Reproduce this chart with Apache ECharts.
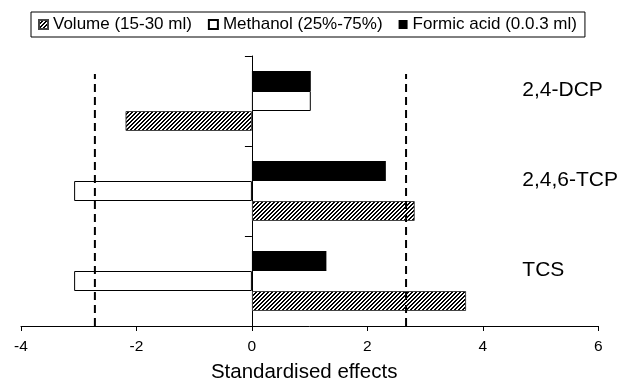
<!DOCTYPE html>
<html>
<head>
<meta charset="utf-8">
<script src="https://cdn.jsdelivr.net/npm/echarts@6/dist/echarts.min.js"></script>
<style>
  html, body { margin: 0; padding: 0; background: #fff; }
  #chart { width: 621px; height: 388px; }
</style>
</head>
<body>
<div id="chart"></div>
<script>
// compounds, bottom to top
var compounds = ['TCS', '2,4,6-TCP', '2,4-DCP'];
var volume = [3.71, 2.82, -2.19];
var methanol = [-3.08, -3.08, 1.02];
var formic = [1.29, 2.32, 1.02];
// significance limits (dashed lines)
var critical = [-2.72, 2.67];
var critTop = 2.8; // dashed lines stop a bit under the top of the plot (in category units)
var xMin = -4, xMax = 6, xStep = 2;

var FONT = '"Liberation Sans", Arial, sans-serif';

function hatch() {
  var c = document.createElement('canvas');
  c.width = 4; c.height = 4;
  var ctx = c.getContext('2d');
  ctx.fillStyle = '#fff';
  ctx.fillRect(0, 0, 4, 4);
  ctx.fillStyle = '#000';
  for (var y = 0; y < 4; y++) {
    ctx.fillRect((7 - y) % 4, y, 1, 1);
    ctx.fillRect((4 - y) % 4, y, 1, 1);
  }
  return c;
}

function dashed(x) {
  return {
    type: 'line',
    xAxisIndex: 0,
    yAxisIndex: 2,
    data: [[x, 0], [x, critTop]],
    symbol: 'none',
    silent: true,
    z: 5,
    lineStyle: { color: '#000', width: 2, type: [8, 5] }
  };
}

var myChart = echarts.init(document.getElementById('chart'));
myChart.setOption({
  animation: false,
  textStyle: { fontFamily: FONT, color: '#000' },
  legend: {
    data: ['Volume (15-30 ml)', 'Methanol (25%-75%)', 'Formic acid (0.0.3 ml)'],
    left: 31,
    top: 12,
    icon: 'rect',
    itemWidth: 9,
    itemHeight: 9,
    itemGap: 16,
    padding: [4, 8, 4, 7],
    borderColor: '#000',
    borderWidth: 1,
    selectedMode: false,
    textStyle: { fontSize: 17, color: '#000', fontFamily: FONT }
  },
  grid: { left: 21, right: 20, top: 56, bottom: 58 },
  xAxis: {
    type: 'value',
    min: xMin,
    max: xMax,
    interval: xStep,
    name: 'Standardised effects',
    nameLocation: 'middle',
    nameGap: 36,
    nameTextStyle: { fontSize: 20.5, color: '#000', padding: [0, 11, 0, 0] },
    axisLine: { onZero: false, lineStyle: { color: '#000', width: 1 } },
    axisTick: { show: true, length: 5, lineStyle: { color: '#000' } },
    axisLabel: { fontSize: 15.5, color: '#000', margin: 13 },
    splitLine: { show: false }
  },
  yAxis: [
    {
      type: 'category',
      data: compounds,
      axisLine: { onZero: true, lineStyle: { color: '#000', width: 1 } },
      axisTick: { show: true, length: 7, lineStyle: { color: '#000' } },
      axisLabel: { show: false },
      splitLine: { show: false }
    },
    {
      type: 'category',
      data: compounds,
      position: 'right',
      axisLine: { show: false },
      axisTick: { show: false },
      axisLabel: {
        align: 'left',
        verticalAlign: 'bottom',
        margin: -76,
        fontSize: 21,
        color: '#000'
      }
    },
    { type: 'value', min: 0, max: 3, show: false }
  ],
  // first bar series sits at the top of each group
  series: [
    {
      name: 'Formic acid (0.0.3 ml)',
      type: 'bar',
      data: formic,
      barWidth: 20,
      barGap: '0%',
      itemStyle: { color: '#000' }
    },
    {
      name: 'Methanol (25%-75%)',
      type: 'bar',
      data: methanol,
      barWidth: 20,
      barGap: '0%',
      itemStyle: { color: '#fff', borderColor: '#000', borderWidth: 1 }
    },
    {
      name: 'Volume (15-30 ml)',
      type: 'bar',
      data: volume,
      barWidth: 20,
      barGap: '0%',
      itemStyle: { color: { image: hatch(), repeat: 'repeat' }, borderColor: '#444', borderWidth: 1 }
    },
    dashed(critical[0]),
    dashed(critical[1])
  ]
});
</script>
</body>
</html>
